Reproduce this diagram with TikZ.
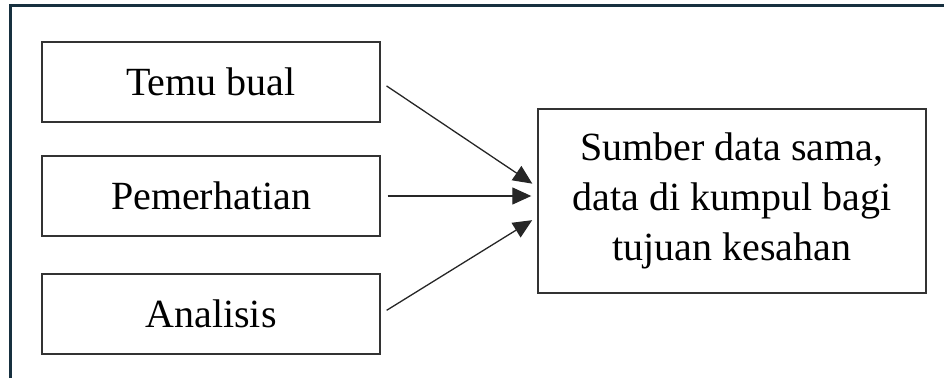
\documentclass[tikz,border=0pt]{standalone}
\usepackage{fontspec}
\setmainfont{Liberation Serif}
\usetikzlibrary{arrows.meta}
\definecolor{framecol}{HTML}{17303F}
\begin{document}
\begin{tikzpicture}
[x=1pt,y=1pt,
 box/.style={draw=black!80,line width=1.4pt,minimum width=338pt,minimum height=80pt,inner sep=0pt},
 arr/.style={line width=1.3pt,black!85,-{Triangle[length=19pt,width=17pt]},shorten <=7pt,shorten >=6pt}]
\useasboundingbox (0,0) rectangle (944,378);
\fontsize{40}{50}\selectfont
\draw[framecol,line width=3pt] (10,0) -- (10,372) -- (944,372);

\node[box] (temu) at (211,296) {Temu bual};
\node[box] (pemerhatian) at (211,182) {Pemerhatian};
\node[box] (analisis) at (211,64) {Analisis};
\node[box,minimum width=388pt,minimum height=184pt,align=center] (sumber) at (732,177)
{Sumber data sama,\\data di kumpul bagi\\tujuan kesahan};

\draw[arr] (temu.east) -- ([yshift=14pt]sumber.west);
\draw[arr] (pemerhatian.east) -- (pemerhatian.east -| sumber.west);
\draw[arr] (analisis.east) -- ([yshift=-16pt]sumber.west);
\end{tikzpicture}
\end{document}
